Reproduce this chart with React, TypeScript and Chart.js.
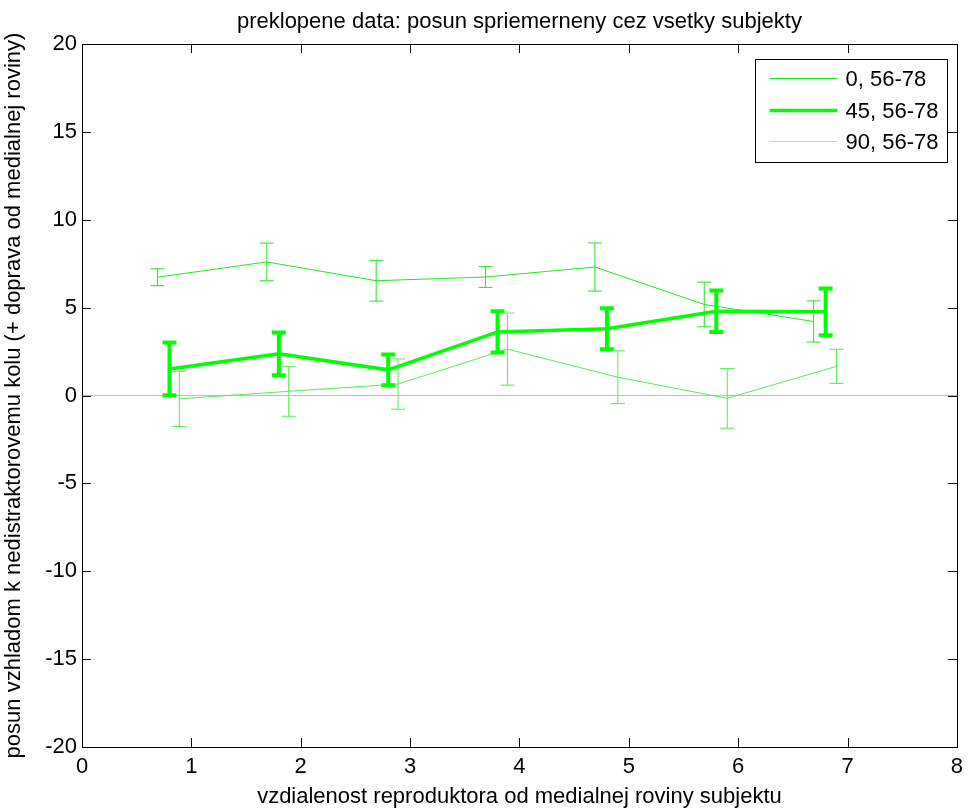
import { useEffect, useRef } from 'react';
import { Chart, registerables } from 'chart.js';

Chart.register(...registerables);

const TITLE = 'preklopene data: posun spriemerneny cez vsetky subjekty';
const X_TITLE = 'vzdialenost reproduktora od medialnej roviny subjektu';
const Y_TITLE = 'posun vzhladom k nedistraktorovemu kolu (+ doprava od medialnej roviny)';

const SERIES_LABELS = ['0, 56-78', '45, 56-78', '90, 56-78'];

// series "0, 56-78"
const X_0 = [0.69, 1.69, 2.69, 3.69, 4.69, 5.69, 6.69];
const Y_0 = [6.73, 7.6, 6.53, 6.74, 7.31, 5.18, 4.21];
const E_0 = [0.48, 1.07, 1.16, 0.59, 1.37, 1.27, 1.17];

// series "45, 56-78"
const X_45 = [0.8, 1.8, 2.8, 3.8, 4.8, 5.8, 6.8];
const Y_45 = [1.51, 2.37, 1.46, 3.62, 3.8, 4.79, 4.76];
const E_45 = [1.5, 1.22, 0.87, 1.17, 1.17, 1.18, 1.33];

// series "90, 56-78"
const X_90 = [0.89, 1.89, 2.89, 3.89, 4.9, 5.9, 6.9];
const Y_90 = [-0.19, 0.24, 0.65, 2.64, 1.04, -0.16, 1.66];
const E_90 = [1.57, 1.42, 1.43, 2.05, 1.5, 1.7, 0.97];

const ZERO_X = [0, 8];
const ZERO_Y = [0, 0];

const X_MIN = 0;
const X_MAX = 8;
const Y_MIN = -20;
const Y_MAX = 20;
const Y_STEP = 5;

const FONT = '"Liberation Sans", Arial, Helvetica, sans-serif';
const FONT_SIZE = 22;

const COLORS = ['rgb(30,232,30)', 'rgb(0,255,0)', 'rgb(80,238,80)'];
const LEGEND_COLORS = ['rgb(30,232,30)', 'rgb(0,255,0)', 'rgb(150,245,150)'];
const LINE_WIDTHS = [1, 3.5, 1];
const ERR_WIDTHS = [1, 4, 1];
const ERRORS = [E_0, E_45, E_90];
const CAP_HALF = 7;
const TICK_LEN = 9;

const toPoints = (xs: number[], ys: number[]) => xs.map((x, i) => ({ x, y: ys[i] }));

const errorBarPlugin = {
  id: 'errorBars',
  afterDatasetsDraw(chart: any) {
    const ctx = chart.ctx;
    const ys = chart.scales.y;
    ERRORS.forEach((err, i) => {
      const meta = chart.getDatasetMeta(i);
      const ds = chart.data.datasets[i];
      ctx.save();
      ctx.strokeStyle = COLORS[i];
      ctx.lineWidth = ERR_WIDTHS[i];
      ctx.lineCap = 'butt';
      meta.data.forEach((pt: any, j: number) => {
        const v = ds.data[j].y;
        const top = ys.getPixelForValue(v + err[j]);
        const bot = ys.getPixelForValue(v - err[j]);
        const x = pt.x;
        ctx.beginPath();
        ctx.moveTo(x, top);
        ctx.lineTo(x, bot);
        ctx.moveTo(x - CAP_HALF, top);
        ctx.lineTo(x + CAP_HALF, top);
        ctx.moveTo(x - CAP_HALF, bot);
        ctx.lineTo(x + CAP_HALF, bot);
        ctx.stroke();
      });
      ctx.restore();
    });
  },
};

const framePlugin = {
  id: 'frame',
  afterDraw(chart: any) {
    const ctx = chart.ctx;
    const { left, right, top, bottom } = chart.chartArea;
    const xs = chart.scales.x;
    const ys = chart.scales.y;
    ctx.save();
    ctx.strokeStyle = '#000';
    ctx.lineWidth = 1;
    ctx.beginPath();
    xs.ticks.forEach((t: any) => {
      const px = Math.round(xs.getPixelForValue(t.value)) + 0.5;
      ctx.moveTo(px, bottom);
      ctx.lineTo(px, bottom - TICK_LEN);
      ctx.moveTo(px, top);
      ctx.lineTo(px, top + TICK_LEN);
    });
    ys.ticks.forEach((t: any) => {
      const py = Math.round(ys.getPixelForValue(t.value)) + 0.5;
      ctx.moveTo(left, py);
      ctx.lineTo(left + TICK_LEN, py);
      ctx.moveTo(right, py);
      ctx.lineTo(right - TICK_LEN, py);
    });
    ctx.stroke();
    ctx.strokeRect(Math.round(left) + 0.5, Math.round(top) + 0.5, Math.round(right - left), Math.round(bottom - top));
    ctx.restore();
  },
};

const legendPlugin = {
  id: 'boxLegend',
  afterDraw(chart: any) {
    const ctx = chart.ctx;
    const { right, top } = chart.chartArea;
    const boxW = 192;
    const boxH = 103;
    const bx = Math.round(right - 10 - boxW) + 0.5;
    const by = Math.round(top + 15) + 0.5;
    ctx.save();
    ctx.fillStyle = '#fff';
    ctx.fillRect(bx, by, boxW, boxH);
    ctx.strokeStyle = '#000';
    ctx.lineWidth = 1;
    ctx.strokeRect(bx, by, boxW, boxH);
    ctx.font = `${FONT_SIZE}px ${FONT}`;
    ctx.textBaseline = 'middle';
    ctx.textAlign = 'left';
    const rowYs = [19, 51, 82];
    SERIES_LABELS.forEach((label, i) => {
      const y = by + rowYs[i];
      ctx.strokeStyle = LEGEND_COLORS[i];
      ctx.lineWidth = LINE_WIDTHS[i];
      ctx.beginPath();
      ctx.moveTo(bx + 14, y);
      ctx.lineTo(bx + 82, y);
      ctx.stroke();
      ctx.fillStyle = '#000';
      ctx.fillText(label, bx + 90, y + 1);
    });
    ctx.restore();
  },
};

export default function App() {
  const ref = useRef<HTMLCanvasElement | null>(null);

  useEffect(() => {
    document.body.style.margin = '0';
    const canvas = ref.current;
    if (!canvas) return;
    const seriesX = [X_0, X_45, X_90];
    const seriesY = [Y_0, Y_45, Y_90];
    const datasets: any[] = SERIES_LABELS.map((label, i) => ({
      label,
      data: toPoints(seriesX[i], seriesY[i]),
      borderColor: COLORS[i],
      backgroundColor: COLORS[i],
      borderWidth: LINE_WIDTHS[i],
      pointRadius: 0,
      tension: 0,
      order: 3 - i,
    }));
    datasets.push({
      label: 'zero',
      data: toPoints(ZERO_X, ZERO_Y),
      borderColor: 'rgb(225,165,225)',
      borderWidth: 1,
      pointRadius: 0,
      order: 10,
    });

    const chart = new Chart(canvas, {
      type: 'line',
      data: { datasets },
      options: {
        animation: false,
        responsive: false,
        devicePixelRatio: 1,
        layout: { padding: { left: 0, right: 11, top: 0, bottom: 0 } },
        plugins: {
          legend: { display: false },
          tooltip: { enabled: false },
          title: {
            display: true,
            fullSize: false,
            text: TITLE,
            color: '#000',
            font: { family: FONT, size: FONT_SIZE, weight: 'normal' },
            padding: { top: 9, bottom: 8.6 },
          },
        },
        scales: {
          x: {
            type: 'linear',
            min: X_MIN,
            max: X_MAX,
            grid: { display: false, drawTicks: false },
            border: { display: false },
            ticks: {
              stepSize: 1,
              color: '#000',
              padding: 7,
              font: { family: FONT, size: FONT_SIZE },
              callback: (v: any) => String(v),
            },
            title: {
              display: true,
              text: X_TITLE,
              color: '#000',
              font: { family: FONT, size: FONT_SIZE },
              padding: { top: 0, bottom: 2 },
            },
            afterFit: (s: any) => {
              s.height = 65;
            },
          },
          y: {
            type: 'linear',
            min: Y_MIN,
            max: Y_MAX,
            grid: { display: false, drawTicks: false },
            border: { display: false },
            ticks: {
              stepSize: Y_STEP,
              color: '#000',
              padding: 5,
              font: { family: FONT, size: FONT_SIZE },
              callback: (v: any) => String(v),
            },
            title: {
              display: true,
              text: Y_TITLE,
              color: '#000',
              font: { family: FONT, size: FONT_SIZE },
              padding: { top: 1, bottom: 0 },
            },
            afterFit: (s: any) => {
              s.width = 82;
            },
          },
        },
      } as any,
      plugins: [errorBarPlugin, framePlugin, legendPlugin],
    });
    return () => chart.destroy();
  }, []);

  return (
    <div style={{ width: 970, height: 812, background: '#fff' }}>
      <canvas ref={ref} width={970} height={812} style={{ display: 'block', width: 970, height: 812 }} />
    </div>
  );
}
